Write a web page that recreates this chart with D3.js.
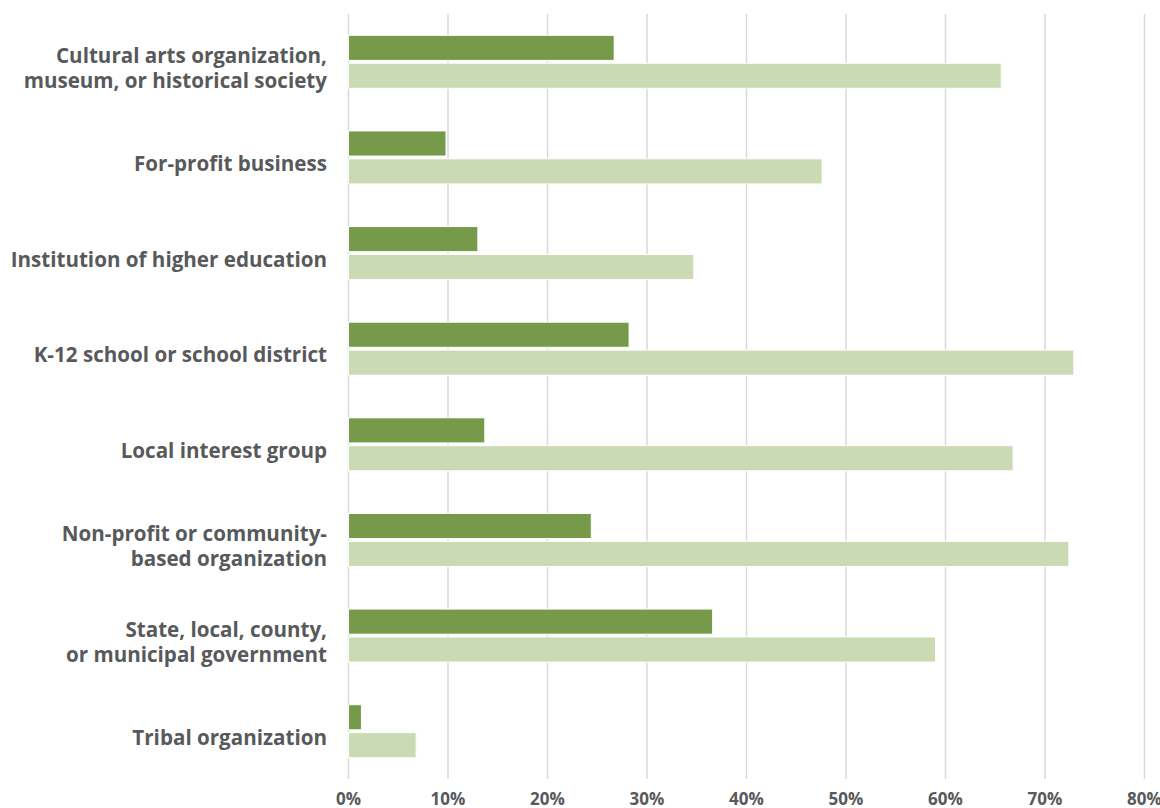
<!DOCTYPE html>
<html><head><meta charset="utf-8">
<script src="https://cdn.jsdelivr.net/npm/d3@7"></script>
<style>
html,body{margin:0;padding:0;background:#fff;}
text{font-family:"Open Sans", Lato, sans-serif;font-weight:700;fill:#58595b;}
</style></head>
<body><svg id="c" width="1160" height="808"></svg>
<script>
const categories = [
  ["Cultural arts organization,", "museum, or historical society"],
  ["For-profit business"],
  ["Institution of higher education"],
  ["K-12 school or school district"],
  ["Local interest group"],
  ["Non-profit or community-", "based organization"],
  ["State, local, county,", "or municipal government"],
  ["Tribal organization"]
];
const seriesDark = [26.7, 9.8, 13.0, 28.2, 13.7, 24.4, 36.6, 1.3];
const seriesLight = [65.6, 47.6, 34.7, 72.9, 66.8, 72.4, 59.0, 6.8];
const tickValues = [0, 10, 20, 30, 40, 50, 60, 70, 80];

const svg = d3.select("#c");
const x = d3.scaleLinear().domain([0, 80]).range([348.5, 1144.5]);
const y = d3.scaleBand().domain(d3.range(categories.length)).range([14, 779]);
const sub = d3.scaleBand().domain(["d","l"]).range([0, 53]).paddingInner(0.1);
const off = (y.bandwidth() - 53) / 2;

svg.append("g").selectAll("line").data(tickValues).join("line")
  .attr("x1", d => x(d)).attr("x2", d => x(d))
  .attr("y1", 14).attr("y2", 779)
  .attr("stroke", "#d9d9d9").attr("stroke-width", 1.5);

svg.append("g").selectAll("text").data(tickValues).join("text")
  .attr("x", d => x(d)).attr("y", 805)
  .attr("text-anchor", "middle")
  .style("font-size", "17px")
  .text(d => d + "%");

const g = svg.append("g");
g.selectAll("rect.d").data(seriesDark).join("rect").attr("class","d")
  .attr("x", x(0)).attr("y", (d,i) => y(i) + off + sub("d"))
  .attr("width", d => x(d) - x(0)).attr("height", sub.bandwidth())
  .attr("fill", "#769a4a").attr("stroke", "#fff").attr("stroke-width", 1);
g.selectAll("rect.l").data(seriesLight).join("rect").attr("class","l")
  .attr("x", x(0)).attr("y", (d,i) => y(i) + off + sub("l"))
  .attr("width", d => x(d) - x(0)).attr("height", sub.bandwidth())
  .attr("fill", "#cadbb3").attr("stroke", "#fff").attr("stroke-width", 1);

const lab = svg.append("g").selectAll("text").data(categories).join("text")
  .attr("text-anchor", "end")
  .style("font-size", "20.6px");
lab.each(function(lines, i) {
  const t = d3.select(this);
  const cy = y(i) + y.bandwidth() / 2 + 5.5;
  const lh = 25;
  lines.forEach((ln, j) => {
    t.append("tspan").attr("x", 327)
      .attr("y", cy + (j - (lines.length - 1) / 2) * lh)
      .attr("dominant-baseline", "central")
      .text(ln);
  });
});
</script></body></html>
